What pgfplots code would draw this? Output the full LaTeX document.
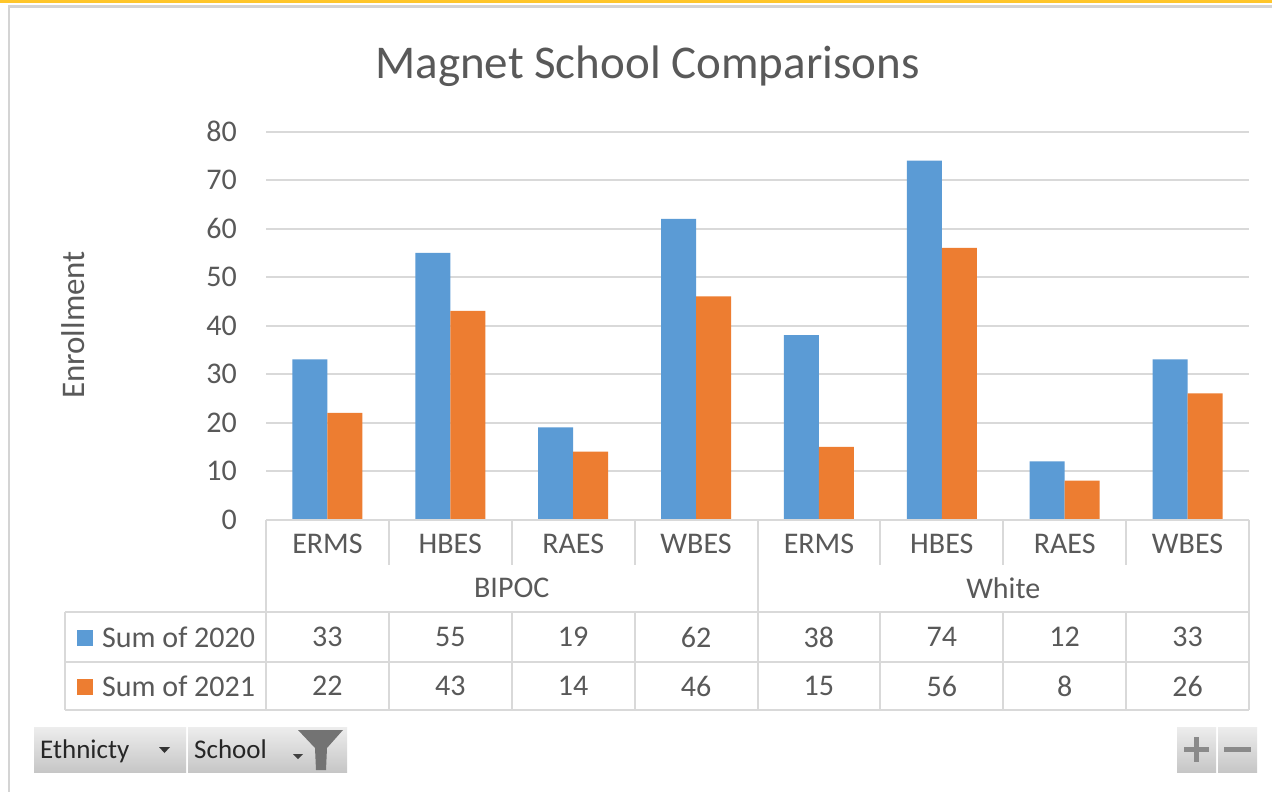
\documentclass[border=0pt]{standalone}
\usepackage{fontspec}
\setmainfont{Carlito}
\usepackage{pgfplots}
\pgfplotsset{compat=1.18}
\usepackage{pgfplotstable}

\definecolor{c20}{HTML}{5B9BD5}
\definecolor{c21}{HTML}{ED7D31}
\definecolor{txt}{HTML}{595959}
\definecolor{gridc}{HTML}{D9D9D9}
\definecolor{frame}{HTML}{D4D4D4}
\definecolor{topyellow}{HTML}{FFC62A}
\definecolor{btnTop}{HTML}{EDEDED}
\definecolor{btnBot}{HTML}{C6C6C6}
\definecolor{glyph}{HTML}{8A8A8A}

\newcommand{\fs}[1]{\fontsize{#1}{#1}\selectfont}

% enrollment by school, BIPOC first then White
\pgfplotstableread{
x y20 y21
0 33 22
1 55 43
2 19 14
3 62 46
4 38 15
5 74 56
6 12 8
7 33 26
}\magnet

\begin{document}
\begin{tikzpicture}
% pixel frame, y runs down
\begin{scope}[x=1pt,y=-1pt]
\useasboundingbox (0,0) rectangle (1272,792);
\fill[white] (0,0) rectangle (1272,792);
\fill[topyellow] (0,0) rectangle (1272,3);
\draw[frame, line width=2.5pt] (9,792) -- (9,6.5) -- (1272,6.5);
\node[font=\fs{47}, text=txt, anchor=base] at (647.5,78) {Magnet School Comparisons};
\node[font=\fs{33}, text=txt, rotate=90] at (73,325) {Enrollment};
\end{scope}

\begin{axis}[
  at={(266pt,-519.5pt)}, anchor=south west,
  width=983pt, height=388pt, scale only axis,
  xmin=-0.5, xmax=7.5, ymin=0, ymax=80,
  ytick={0,10,...,80},
  xtick={0,...,7},
  xticklabels={ERMS,HBES,RAES,WBES,ERMS,HBES,RAES,WBES},
  ymajorgrids, grid style={draw=gridc, line width=2pt},
  axis line style={draw=none},
  major tick length=0pt,
  tick label style={font=\fs{30}, text=txt},
  /pgf/number format/assume math mode=true,
  yticklabel style={inner sep=0pt, xshift=-29pt},
  xticklabel style={anchor=center, inner sep=0pt, yshift=-24.5pt},
  ybar=0pt, bar width=35pt,
  clip=false,
]
\addplot[fill=c20, draw=none] table[x=x, y=y20] {\magnet};
\addplot[fill=c21, draw=none] table[x=x, y=y21] {\magnet};
\end{axis}

% data table below the axis
\begin{scope}[x=1pt,y=-1pt]
\begin{scope}[draw=gridc, line width=2pt]
\draw (266,519.5) -- (1249,519.5);
\draw (266,519.5) -- (266,710);
\draw (1249,519.5) -- (1249,710);
\draw (757.5,519.5) -- (757.5,710);
\foreach \k in {1,2,3,5,6,7}{
  \draw ({266+\k*122.875},519.5) -- ({266+\k*122.875},565);
  \draw ({266+\k*122.875},612) -- ({266+\k*122.875},710);
}
\draw (65,612) -- (1249,612);
\draw (65,661.5) -- (1249,661.5);
\draw (65,710) -- (1249,710);
\draw (65,612) -- (65,710);
\end{scope}
\node[font=\fs{30}, text=txt] at (511.75,588) {BIPOC};
\node[font=\fs{30}, text=txt] at (1003.25,588) {White};
\fill[c20] (77,629.5) rectangle (93,645.5);
\fill[c21] (77,678.5) rectangle (93,694.5);
\node[font=\fs{30}, text=txt, anchor=west, inner sep=0pt] at (102,637) {Sum of 2020};
\node[font=\fs{30}, text=txt, anchor=west, inner sep=0pt] at (102,686) {Sum of 2021};
\foreach \i in {0,...,7}{
  \pgfplotstablegetelem{\i}{y20}\of\magnet
  \node[font=\fs{30}, text=txt, inner sep=0pt] at ({327.4+\i*122.875},637) {\pgfplotsretval};
  \pgfplotstablegetelem{\i}{y21}\of\magnet
  \node[font=\fs{30}, text=txt, inner sep=0pt] at ({327.4+\i*122.875},686) {\pgfplotsretval};
}

% pivot field buttons
\shade[top color=btnTop, bottom color=btnBot] (34,727) rectangle (186,772);
\shade[top color=btnTop, bottom color=btnBot] (188,727) rectangle (347,772);
\node[font=\fs{27}, text=black!85, anchor=base west, inner sep=0pt] at (40,758) {Ethnicty};
\fill[black!80] (159,747) -- (170,747) -- (164.5,753) -- cycle;
\node[font=\fs{27}, text=black!85, anchor=base west, inner sep=0pt] at (194,758) {School};
\fill[black!75] (293,754) -- (303,754) -- (298,759) -- cycle;
\fill[black!55] (298,730) -- (343,730) -- (327,748) -- (326,770) -- (316,770) -- (315,748) -- cycle;

% plus / minus buttons
\shade[top color=btnTop, bottom color=btnBot] (1177,727) rectangle (1216,772);
\shade[top color=btnTop, bottom color=btnBot] (1218,727) rectangle (1257,772);
\fill[glyph] (1184,747) rectangle (1209,752);
\fill[glyph] (1194,737) rectangle (1199,762);
\fill[glyph] (1224,747) rectangle (1251,752);
\end{scope}
\end{tikzpicture}
\end{document}
